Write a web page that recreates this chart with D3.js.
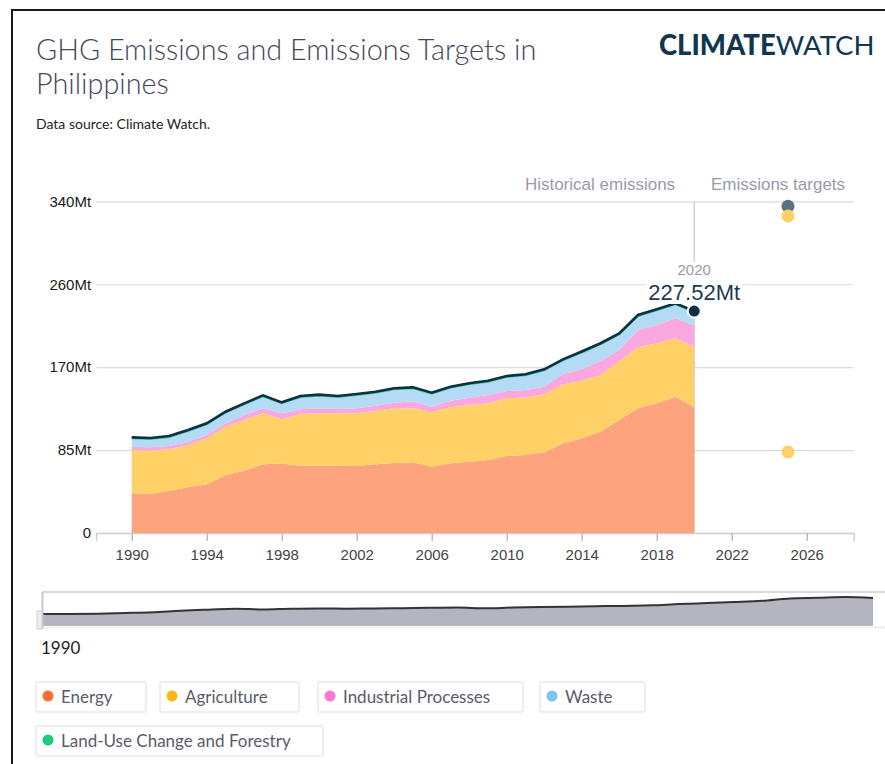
<!DOCTYPE html>
<html>
<head>
<meta charset="utf-8">
<script src="https://cdn.jsdelivr.net/npm/d3@7"></script>
<style>
  html, body { margin: 0; padding: 0; background: #fff; }
  svg { display: block; }
</style>
</head>
<body>
<svg id="chart" width="885" height="764"></svg>
<script>
// ---------------- DATA ----------------
const years = [1990,1991,1992,1993,1994,1995,1996,1997,1998,1999,2000,2001,2002,2003,2004,2005,
               2006,2007,2008,2009,2010,2011,2012,2013,2014,2015,2016,2017,2018,2019,2020];
const energy      = [40.6,39.9,43.3,46.7,49.8,59.4,63.8,70.5,71.0,69.0,69.0,69.0,68.5,70.3,71.7,72.5,
                     67.8,71.4,73.0,74.8,78.9,79.9,82.8,91.9,97.0,103.8,115.8,127.8,132.9,139.7,129.0];
const agriculture = [44.4,44.4,42.4,43.5,47.2,49.5,52.0,52.2,45.5,53.0,53.7,53.7,54.2,55.0,56.1,55.3,
                     56.5,57.4,58.2,58.1,59.1,59.1,59.5,60.6,59.0,58.2,60.2,62.6,61.6,59.9,62.0];
const industrial  = [3.4,3.5,3.4,3.3,3.4,3.5,5.1,5.1,6.2,4.8,5.1,4.3,5.1,5.2,5.7,7.2,
                     5.1,6.8,7.5,8.5,7.5,7.6,7.7,10.5,11.8,14.3,11.6,17.7,18.7,20.5,21.7];
const waste       = [8.6,8.5,9.3,11.0,11.0,10.9,11.0,12.3,10.2,12.6,13.0,12.4,13.7,13.3,13.8,13.3,
                     13.4,13.4,13.7,13.7,14.4,15.1,16.8,14.0,17.2,17.2,16.1,14.4,15.1,14.4,13.8];
const lucf        = [1.0,1.0,1.0,1.0,1.0,1.0,1.0,1.0,1.0,1.0,1.0,1.0,1.0,1.0,1.0,1.0,
                     1.0,1.0,1.0,1.0,1.0,1.0,1.0,1.0,1.0,1.0,1.0,1.0,1.0,1.0,1.02];

const sectors = ["Energy","Agriculture","Industrial Processes","Waste","Land-Use Change and Forestry"];
const targetYears  = [2025, 2025, 2025];
const targetValues = [335, 325, 83];

const yTickValues = [0, 85, 170, 255, 340];
const yTickLabels = ["0", "85Mt", "170Mt", "260Mt", "340Mt"];
const xTickValues = [1990,1994,1998,2002,2006,2010,2014,2018,2022,2026];

const lastYear = 2020;
const lastLabel = "227.52Mt";

// ---------------- STYLES ----------------
const fills   = ["#fda47f", "#fdd166", "#fba8df", "#b4daf5", "#2ec27e"];
const dotCols = ["#fb6c36", "#fcb712", "#fb79d4", "#7cc4f5", "#1ec97d"];
const targetCols = ["#5c7280", "#fdd166", "#fdd166"];

// ---------------- BUILD ----------------
const rows = years.map((y, i) => ({
  year: y,
  "Energy": energy[i],
  "Agriculture": agriculture[i],
  "Industrial Processes": industrial[i],
  "Waste": waste[i],
  "Land-Use Change and Forestry": lucf[i]
}));
const totals = rows.map(r => sectors.reduce((s, k) => s + r[k], 0));

const svg = d3.select("#chart");

// outer frame
svg.append("rect").attr("x", 12).attr("y", 10).attr("width", 900).attr("height", 800)
  .attr("fill", "none").attr("stroke", "#1a1a1a").attr("stroke-width", 2);

// title
const title = svg.append("text")
  .style("font-family", "Lato, 'Open Sans', sans-serif").style("font-weight", 300)
  .style("font-size", "28.8px").attr("fill", "#45465a");
title.append("tspan").attr("x", 36).attr("y", 60).text("GHG Emissions and Emissions Targets in");
title.append("tspan").attr("x", 36).attr("y", 94).text("Philippines");

svg.append("text").attr("x", 36).attr("y", 129)
  .style("font-family", "Lato, sans-serif").style("font-size", "14px").attr("fill", "#222")
  .text("Data source: Climate Watch.");

// logo
const logo = svg.append("text").attr("x", 659).attr("y", 55)
  .style("font-family", "Lato, sans-serif").style("font-size", "27.5px")
  .attr("fill", "#113750");
logo.append("tspan").style("font-weight", 900).text("CLIMATE");
logo.append("tspan").style("font-weight", 400).text("WATCH");

// scales
const x = d3.scaleLinear().domain([1988.1, 2028.5]).range([96.1, 853.6]);
const y = d3.scaleLinear().domain([0, 340]).range([532.9, 201.4]);

const axisFont = "'Liberation Sans', Arial, Helvetica, sans-serif";

// y axis with gridlines
const gy = svg.append("g").attr("transform", `translate(${x.range()[0]},0)`)
  .call(d3.axisLeft(y).tickValues(yTickValues)
        .tickFormat((d, i) => yTickLabels[i])
        .tickSize(-(x.range()[1] - x.range()[0])).tickPadding(5));
gy.select(".domain").remove();
gy.selectAll(".tick line").attr("stroke", "#dcdcdc").attr("stroke-width", 1.2);
gy.selectAll(".tick text").style("font-family", axisFont).style("font-size", "15px").attr("fill", "#1a1a1a");

// x axis
const gx = svg.append("g").attr("transform", `translate(0,${y(0)})`)
  .call(d3.axisBottom(x).tickValues(xTickValues).tickFormat(d3.format("d")).tickSize(8).tickPadding(8));
gx.select(".domain").attr("stroke", "#cfcfcf").attr("stroke-width", 1.5);
gx.selectAll(".tick line").attr("stroke", "#bdbdbd").attr("stroke-width", 1.5);
gx.selectAll(".tick text").style("font-family", axisFont).style("font-size", "15px").attr("fill", "#444");

// vertical 2020 line
svg.append("line").attr("x1", x(lastYear)).attr("x2", x(lastYear))
  .attr("y1", y(340)).attr("y2", y(0)).attr("stroke", "#d0d0d0").attr("stroke-width", 1.5);

// stacked areas
const stack = d3.stack().keys(sectors);
const series = stack(rows);
const area = d3.area().x(d => x(d.data.year)).y0(d => y(d[0])).y1(d => y(d[1]));
svg.append("g").selectAll("path").data(series).join("path")
  .attr("d", area).attr("fill", (d, i) => fills[i]);

// LUCF top edge (thin green) and total line
const lineTop = d3.line().x((d, i) => x(years[i])).y(d => y(d));
svg.append("path").datum(totals).attr("d", lineTop)
  .attr("transform", "translate(0,1.2)")
  .attr("fill", "none").attr("stroke", "#3fd08e").attr("stroke-width", 1.5);
svg.append("path").datum(totals).attr("d", lineTop)
  .attr("fill", "none").attr("stroke", "#0f2f45").attr("stroke-width", 2.6);

// header labels
svg.append("text").attr("x", 600).attr("y", 190).attr("text-anchor", "middle")
  .style("font-family", axisFont).style("font-size", "17px").attr("fill", "#9a9aab")
  .text("Historical emissions");
svg.append("text").attr("x", 778).attr("y", 190).attr("text-anchor", "middle")
  .style("font-family", axisFont).style("font-size", "17px").attr("fill", "#9a9aab")
  .text("Emissions targets");

// targets
svg.append("g").selectAll("circle").data(targetValues).join("circle")
  .attr("cx", (d, i) => x(targetYears[i])).attr("cy", d => y(d)).attr("r", 6.5)
  .attr("fill", (d, i) => targetCols[i]);

// label box for 2020
const lx = x(lastYear);
svg.append("rect").attr("x", lx - 48).attr("y", 262).attr("width", 96).attr("height", 42).attr("fill", "#fff");
svg.append("text").attr("x", lx).attr("y", 275).attr("text-anchor", "middle")
  .style("font-family", axisFont).style("font-size", "15px").attr("fill", "#9a9aab").text(String(lastYear));
svg.append("text").attr("x", lx).attr("y", 299.5).attr("text-anchor", "middle")
  .style("font-family", axisFont).style("font-size", "22px").attr("fill", "#1b3a52").text(lastLabel);
svg.append("circle").attr("cx", lx).attr("cy", y(totals[totals.length - 1])).attr("r", 6.5)
  .attr("fill", "#0c2f47").attr("stroke", "#fff").attr("stroke-width", 2);

// ---------------- minimap ----------------
const mx = d3.scaleLinear().domain([1990, 2020]).range([42, 873]);
const my = d3.scaleLinear().domain([0, d3.max(totals)]).range([626, 597]);
svg.append("line").attr("x1", 42).attr("x2", 885).attr("y1", 592).attr("y2", 592)
  .attr("stroke", "#dadada").attr("stroke-width", 2);
svg.append("line").attr("x1", 42).attr("x2", 885).attr("y1", 627.5).attr("y2", 627.5)
  .attr("stroke", "#ececec").attr("stroke-width", 1.5);
svg.append("path").datum(totals)
  .attr("d", d3.area().x((d, i) => mx(years[i])).y0(626).y1(d => my(d)).curve(d3.curveMonotoneX))
  .attr("fill", "#b5b5c1");
svg.append("path").datum(totals)
  .attr("d", d3.line().x((d, i) => mx(years[i])).y(d => my(d)).curve(d3.curveMonotoneX))
  .attr("fill", "none").attr("stroke", "#333").attr("stroke-width", 2);
svg.append("rect").attr("x", 37).attr("y", 611).attr("width", 5.5).attr("height", 18)
  .attr("fill", "#eeeeee").attr("stroke", "#cfcfcf").attr("stroke-width", 1);
svg.append("line").attr("x1", 42.5).attr("x2", 42.5).attr("y1", 592).attr("y2", 629)
  .attr("stroke", "#c8c8c8").attr("stroke-width", 2);
svg.append("text").attr("x", 41).attr("y", 654)
  .style("font-family", "Lato, sans-serif").style("font-size", "17px").attr("fill", "#222")
  .text("1990");

// ---------------- legend ----------------
const legendPos = [
  {x: 36, y: 682, w: 110},
  {x: 160, y: 682, w: 139},
  {x: 318, y: 682, w: 205},
  {x: 540, y: 682, w: 105},
  {x: 36, y: 726, w: 287}
];
const lg = svg.append("g").selectAll("g").data(sectors).join("g")
  .attr("transform", (d, i) => `translate(${legendPos[i].x},${legendPos[i].y})`);
lg.append("rect").attr("width", (d, i) => legendPos[i].w).attr("height", 30).attr("rx", 2)
  .attr("fill", "#fff").attr("stroke", "#e6e9f3").attr("stroke-width", 1.5);
lg.append("circle").attr("cx", 12).attr("cy", 14).attr("r", 5.5).attr("fill", (d, i) => dotCols[i]);
lg.append("text").attr("x", 25).attr("y", 21)
  .style("font-family", "Lato, sans-serif").style("font-size", "17px").attr("fill", "#5b5b6b")
  .text(d => d);
</script>
</body>
</html>
